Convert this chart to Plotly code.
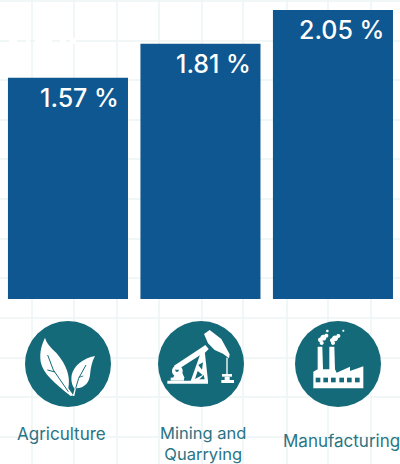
import re
import plotly.graph_objects as go

categories = ["Agriculture", "Mining and<br>Quarrying", "Manufacturing"]
values = [1.57, 1.81, 2.05]
value_labels = ["1.57 %", "1.81 %", "2.05 %"]

W, H = 400, 464
BLUE = "#0f5790"
TEAL = "#156a7a"
GRID = "#edf5f3"
FONT = "Inter, Roboto, sans-serif"

grid_x = [32, 74, 117, 159, 202, 243, 287, 328, 371]
grid_y = [1, 41, 80, 120, 159, 199, 239, 278, 318, 358, 397, 437]
white_patches = [(9, 17), (26, 30), (35, 52), (60, 66), (70, 76)]
circles = [(68, 364), (201, 364), (338, 364)]
R = 43

def px(x): return x / W
def py(y): return 1 - y / H

def icon(path, ox, oy, color="white", stroke=0, fill=True):
    """Icon outline given in 3x crop units relative to (ox, oy)."""
    toks = re.findall(r"[A-Za-z]|-?\d+\.?\d*", path)
    out, is_x = [], True
    for t in toks:
        if t.isalpha():
            out.append(t); is_x = True
        else:
            v = float(t) / 3
            out.append(f"{px(ox + v):.5f}" if is_x else f"{py(oy + v):.5f}")
            is_x = not is_x
    return dict(type="path", xref="paper", yref="paper", path=" ".join(out),
                fillcolor=color if fill else "rgba(0,0,0,0)",
                line=dict(color=color, width=stroke), layer="above")

def dot(cx, cy, r, ox, oy, color="white"):
    c = f"M {cx-r} {cy} C {cx-r} {cy-r*1.3} {cx+r} {cy-r*1.3} {cx+r} {cy} C {cx+r} {cy+r*1.3} {cx-r} {cy+r*1.3} {cx-r} {cy} Z"
    return icon(c, ox, oy, color)

shapes = []
for x in grid_x:
    shapes.append(dict(type="line", xref="paper", yref="paper", x0=px(x), x1=px(x), y0=0, y1=1,
                       line=dict(color=GRID, width=1.5), layer="below"))
for y in grid_y:
    shapes.append(dict(type="line", xref="paper", yref="paper", x0=0, x1=1, y0=py(y), y1=py(y),
                       line=dict(color=GRID, width=1.5), layer="below"))
for a, b in white_patches:
    shapes.append(dict(type="rect", xref="paper", yref="paper", x0=px(a), x1=px(b), y0=py(44), y1=py(38),
                       fillcolor="white", line=dict(width=0), layer="below"))
for cx, cy in circles:
    shapes.append(dict(type="circle", xref="paper", yref="paper", x0=px(cx-R), x1=px(cx+R),
                       y0=py(cy+R), y1=py(cy-R), fillcolor=TEAL, line=dict(width=0), layer="above"))

# leaf icon
o = (0, 290)
shapes += [
    icon("M135 143 C125 165 118 185 122 215 C128 250 165 280 212 318 L220 316 L205 295 C212 260 200 225 170 190 C150 170 140 160 135 143 Z", *o),
    icon("M285 198 C250 205 222 225 215 255 C212 275 218 290 224 296 L218 318 L223 318 L228 295 C255 295 268 275 270 255 C272 235 275 215 285 198 Z", *o),
    icon("M143 195 L160 240 L205 305", *o, color=TEAL, stroke=1, fill=False),
    icon("M142 240 L165 246", *o, color=TEAL, stroke=1, fill=False),
    icon("M258 225 L236 265 L227 295", *o, color=TEAL, stroke=1, fill=False),
    icon("M236 262 L250 258", *o, color=TEAL, stroke=0.8, fill=False),
]

# pumpjack icon
o = (158, 325)
shapes += [
    icon("M28 167 L150 167 L150 176 L28 176 Z", *o),
    icon("M38 158 L78 158 L78 167 L38 167 Z", *o),
    dot(58, 138, 16, *o),
    dot(57, 136, 5, *o, color=TEAL),
    icon("M50 148 L72 142 L80 160 L45 160 Z", *o),
    icon("M48 122 L130 68 L140 82 L56 136 Z", *o),
    icon("M138 27 L155 15 L190 42 L215 88 L213 100 L195 86 L170 75 L150 55 Z", *o),
    icon("M128 70 L142 60 L152 72 L140 84 Z", *o),
    icon("M98 168 L128 84 L140 78 L150 168 Z", *o),
    icon("M121 120 L135 112 L132 134 Z", *o, color=TEAL),
    icon("M119 138 L134 150 L111 162 Z", *o, color=TEAL),
    icon("M137 150 L140 163 L124 163 Z", *o, color=TEAL),
    icon("M205 98 L209 98 L209 148 L205 148 Z", *o),
    icon("M192 147 L222 147 L222 155 L192 155 Z", *o),
    icon("M200 155 L215 155 L215 166 L200 166 Z", *o),
    icon("M190 165 L228 165 L228 174 L190 174 Z", *o),
]

# factory icon
o = (295, 325)
shapes += [
    icon("M55 190 L55 140 L68 133 L68 65 L82 65 L84 133 L103 133 L103 65 L118 65 L120 133 L125 143 L165 125 L165 138 L205 124 L205 190 Z", *o),
]
for wx in [62, 85, 108, 133, 156, 180]:
    shapes.append(icon(f"M{wx} 158 L{wx+14} 158 L{wx+14} 172 L{wx} 172 Z", *o, color=TEAL))
for cx, cy, r in [(76, 44, 7), (85, 38, 9), (94, 32, 6), (80, 54, 6), (112, 46, 7), (120, 40, 9), (130, 33, 6), (114, 54, 6), (97, 18, 4), (145, 17, 3)]:
    shapes.append(dot(cx, cy, r, *o))

fig = go.Figure(go.Bar(x=categories, y=values, width=0.906, marker=dict(color=BLUE, line=dict(width=0))))

ann = []
for c, v, t in zip(categories, values, value_labels):
    ann.append(dict(x=c, y=v, xref="x", yref="y", text=t, showarrow=False, xanchor="right", yanchor="top",
                    xshift=53, yshift=-3, font=dict(family=FONT, size=25, color="white", weight=500)))
label_pos = [(61, 434, 17), (203, 443, 16.5), (341, 441, 17)]
for c, (x, y, s) in zip(categories, label_pos):
    ann.append(dict(x=px(x), y=py(y), xref="paper", yref="paper", text=c, showarrow=False, xanchor="center", yanchor="middle",
                    font=dict(family=FONT, size=s, color="#2b7484")))

fig.update_layout(width=W, height=H, margin=dict(l=0, r=0, t=0, b=0), paper_bgcolor="white", plot_bgcolor="rgba(0,0,0,0)",
                  showlegend=False, shapes=shapes, annotations=ann,
                  xaxis=dict(range=[-0.513, 2.506], visible=False, type="category"),
                  yaxis=dict(range=[-1.170, 2.1206], visible=False))
fig.write_html("out.html", config=dict(displayModeBar=False), post_script="document.body.style.margin='0';")
